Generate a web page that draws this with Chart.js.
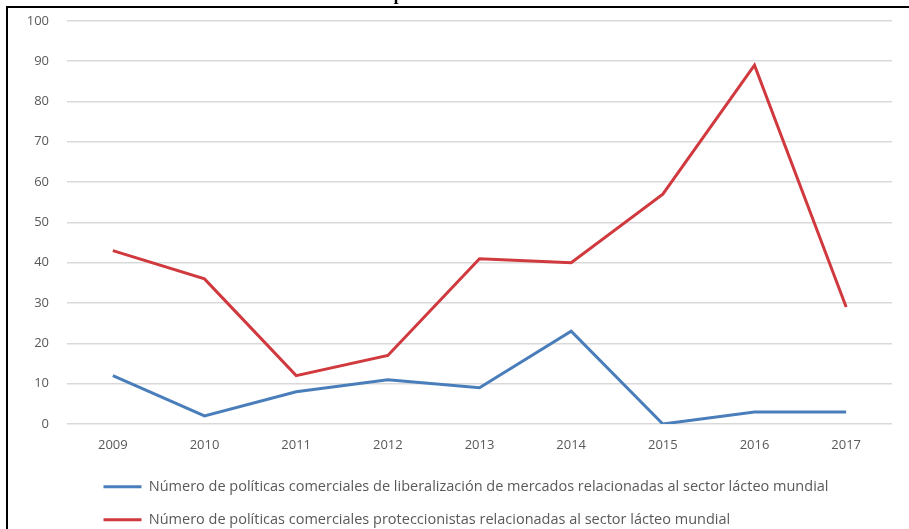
<!DOCTYPE html>
<html>
<head>
<meta charset="utf-8">
<script src="https://cdn.jsdelivr.net/npm/chart.js@4/dist/chart.umd.min.js"></script>
<style>
  html, body { margin: 0; padding: 0; background: #fff; overflow: hidden; width: 909px; height: 529px; }
  #title { position: absolute; left: 0; width: 909px; top: -14px; text-align: center;
    font: bold 17px "Liberation Serif", serif; line-height: 17px; color: #000; z-index: 1; }
  #frame { position: absolute; left: 6px; top: 6px; width: 903px; height: 523px;
    border-left: 2px solid #000; border-top: 2px solid #000; z-index: 2; }
  #wrap { position: absolute; left: 8px; top: -5px; width: 901px; height: 542px; }
</style>
</head>
<body>
<div id="title">Políticas comerciales aplicadas en el mundo en el sector lácteo</div>
<div id="frame"></div>
<div id="wrap"><canvas id="lineChart" width="901" height="542"></canvas></div>
<script>
  var years = ["2009", "2010", "2011", "2012", "2013", "2014", "2015", "2016", "2017"];
  var liberalizacion = [12, 2, 8, 11, 9, 23, 0, 3, 3];
  var proteccionistas = [43, 36, 12, 17, 41, 40, 57, 89, 29];
  var yTicks = [0, 10, 20, 30, 40, 50, 60, 70, 80, 90, 100];

  var gris = "#595959";

  // mueve la leyenda a la derecha como en el original
  var legendShift = {
    id: "legendShift",
    afterLayout: function (chart) {
      chart.legend.left += 77;
      chart.legend.right += 77;
    },
  };

  var ctx = document.getElementById("lineChart").getContext("2d");
  var myLineChart = new Chart(ctx, {
    type: "line",
    data: {
      labels: years,
      datasets: [
        {
          label: "Número de políticas comerciales de liberalización de mercados relacionadas al sector lácteo mundial",
          data: liberalizacion,
          borderColor: "#4a7ebb",
          backgroundColor: "#4a7ebb",
          borderWidth: 3,
          pointRadius: 0,
          tension: 0,
        },
        {
          label: "Número de políticas comerciales proteccionistas relacionadas al sector lácteo mundial",
          data: proteccionistas,
          borderColor: "#d0393e",
          backgroundColor: "#d0393e",
          borderWidth: 3,
          pointRadius: 0,
          tension: 0,
        },
      ],
    },
    plugins: [legendShift],
    options: {
      responsive: false,
      animation: false,
      layout: { padding: { top: 11, right: 17, left: 0, bottom: 0 } },
      plugins: {
        title: { display: false },
        tooltip: { enabled: false },
        legend: {
          position: "bottom",
          align: "start",
          labels: {
            boxWidth: 38,
            boxHeight: 3,
            padding: 18.5,
            color: gris,
            font: { family: "Open Sans", size: 14.5 },
            generateLabels: function (chart) {
              return Chart.defaults.plugins.legend.labels.generateLabels(chart).map(function (l) {
                l.fillStyle = l.strokeStyle;
                l.lineWidth = 0;
                return l;
              });
            },
          },
        },
      },
      scales: {
        x: {
          offset: true,
          grid: { display: false, drawTicks: false },
          border: { display: false },
          ticks: { color: gris, font: { family: "Open Sans", size: 13 }, padding: 13 },
          afterFit: function (scale) { scale.height = 37; },
        },
        y: {
          min: 0,
          max: 100,
          afterBuildTicks: function (scale) {
            scale.ticks = yTicks.map(function (v) { return { value: v }; });
          },
          grid: { color: "#d9d9d9", lineWidth: 1.5, drawTicks: false },
          border: { display: false },
          ticks: { color: gris, font: { family: "Open Sans", size: 13 }, padding: 18 },
          afterFit: function (scale) { scale.width = 59; },
        },
      },
    },
  });
</script>
</body>
</html>
